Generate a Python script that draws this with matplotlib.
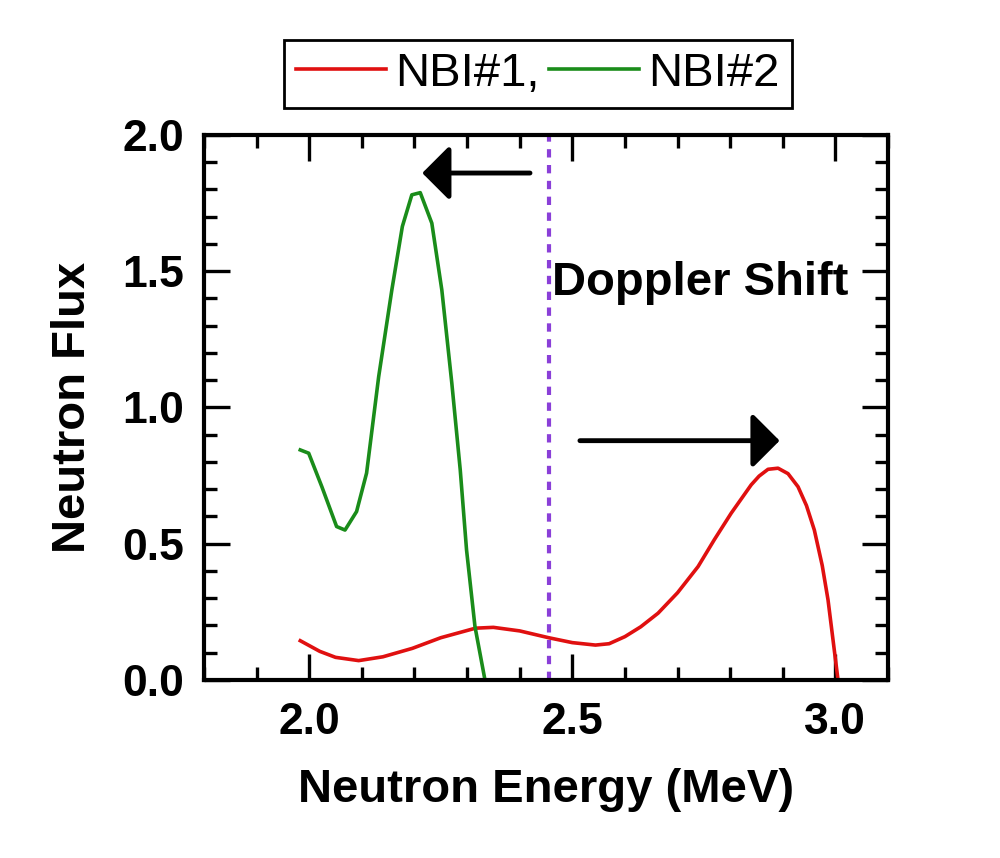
import numpy as np
import matplotlib
matplotlib.use('Agg')
import matplotlib.pyplot as plt
from matplotlib.ticker import MultipleLocator

plt.rcParams['font.family'] = ['Liberation Sans', 'DejaVu Sans']

# NBI#2 (green)
e_nbi2 = [1.983, 1.999, 2.024, 2.052, 2.068, 2.090, 2.109, 2.132, 2.157, 2.177,
          2.195, 2.211, 2.233, 2.252, 2.271, 2.287, 2.299, 2.315, 2.334]
f_nbi2 = [0.844, 0.832, 0.709, 0.563, 0.550, 0.618, 0.759, 1.113, 1.431, 1.664,
          1.780, 1.788, 1.676, 1.431, 1.089, 0.771, 0.477, 0.196, 0.0]

# NBI#1 (red)
e_nbi1 = [1.983, 2.02, 2.05, 2.094, 2.14, 2.196, 2.25, 2.316, 2.35, 2.40, 2.455,
          2.50, 2.544, 2.57, 2.600, 2.63, 2.663, 2.70, 2.739, 2.77, 2.802, 2.840,
          2.855, 2.872, 2.891, 2.91, 2.929, 2.945, 2.960, 2.975, 2.986, 3.005]
f_nbi1 = [0.144, 0.105, 0.083, 0.071, 0.085, 0.116, 0.155, 0.190, 0.193, 0.180,
          0.155, 0.137, 0.128, 0.133, 0.159, 0.195, 0.245, 0.320, 0.416, 0.515,
          0.612, 0.716, 0.748, 0.773, 0.777, 0.757, 0.709, 0.640, 0.550, 0.420,
          0.294, 0.0]

shift_line = 2.455

fig = plt.figure(figsize=(10, 8.58), dpi=100)
ax = fig.add_axes([0.204, 0.2075, 0.684, 0.6353])

ax.plot(e_nbi1, f_nbi1, color='#e01010', lw=2.6, label='NBI#1,')
ax.plot(e_nbi2, f_nbi2, color='#1a8c1a', lw=2.6, label='NBI#2')
ax.axvline(shift_line, color='#8a3fd8', lw=3.0, dashes=(2.0, 1.8))

ax.annotate('', xy=(2.2148, 1.86), xytext=(2.4196, 1.86),
            arrowprops=dict(arrowstyle='-|>,head_length=0.42,head_width=0.42',
                            lw=3.5, color='k', mutation_scale=40,
                            shrinkA=0, shrinkB=0))
ax.annotate('', xy=(2.894, 0.878), xytext=(2.5145, 0.878),
            arrowprops=dict(arrowstyle='-|>,head_length=0.42,head_width=0.42',
                            lw=3.5, color='k', mutation_scale=40,
                            shrinkA=0, shrinkB=0))
ax.text(2.462, 1.413, 'Doppler Shift', fontsize=34, fontweight='bold',
        va='baseline', ha='left')

ax.set_xlim(1.8, 3.1)
ax.set_ylim(0, 2.0)
ax.xaxis.set_major_locator(MultipleLocator(0.5))
ax.xaxis.set_minor_locator(MultipleLocator(0.1))
ax.yaxis.set_major_locator(MultipleLocator(0.5))
ax.yaxis.set_minor_locator(MultipleLocator(0.1))
ax.set_xticks([2.0, 2.5, 3.0])
ax.set_xticklabels(['2.0', '2.5', '3.0'])
ax.tick_params(which='both', direction='in', top=True, right=True, width=2.4)
ax.tick_params(which='major', length=18.5)
ax.tick_params(which='minor', length=9.5)
ax.tick_params(axis='x', which='major', pad=16, labelsize=32)
ax.tick_params(axis='y', which='major', pad=14, labelsize=32)
for lab in ax.get_xticklabels() + ax.get_yticklabels():
    lab.set_fontweight('bold')
for s in ax.spines.values():
    s.set_linewidth(3)

ax.set_xlabel('Neutron Energy (MeV)', fontsize=34, fontweight='bold', labelpad=18)
ax.set_ylabel('Neutron Flux', fontsize=34, fontweight='bold', labelpad=20)

leg = ax.legend(loc='center', bbox_to_anchor=(0.538, 0.914),
                bbox_transform=fig.transFigure, ncol=2, fontsize=34,
                fancybox=False, edgecolor='black', framealpha=1,
                handlelength=1.9, handletextpad=0.2, columnspacing=0.2,
                borderpad=0.25, borderaxespad=0)
leg.get_frame().set_linewidth(2)

fig.savefig('out.png', dpi=100)
